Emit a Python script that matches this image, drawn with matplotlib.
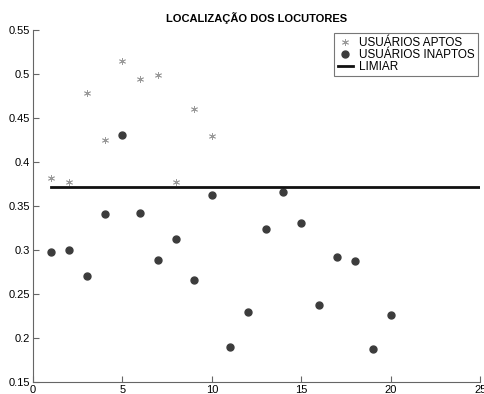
import matplotlib
matplotlib.use("Agg")
import matplotlib.pyplot as plt

plt.rcParams['font.family'] = ['Liberation Sans', 'DejaVu Sans']

# data
x_aptos = [1, 2, 3, 4, 5, 6, 7, 8, 9, 10]
y_aptos = [0.382, 0.377, 0.478, 0.425, 0.515, 0.494, 0.499, 0.377, 0.460, 0.430]

x_inaptos = list(range(1, 21))
y_inaptos = [0.298, 0.300, 0.270, 0.341, 0.431, 0.342, 0.289, 0.313, 0.266, 0.363,
             0.190, 0.229, 0.324, 0.366, 0.331, 0.238, 0.292, 0.288, 0.188, 0.226]

limiar_x = [1, 25]
limiar = 0.3716

xticks = [0, 5, 10, 15, 20, 25]
yticks = [0.15, 0.2, 0.25, 0.3, 0.35, 0.4, 0.45, 0.5, 0.55]

fig = plt.figure(figsize=(4.85, 3.94), dpi=100)
ax = fig.add_axes([0.068, 0.0305, 0.922, 0.8935])

ax.plot(x_aptos, y_aptos, linestyle='none', marker=(6, 2, 0), color='#9a9a9a',
        markersize=5, markeredgewidth=0.6, label='USUÁRIOS APTOS')
ax.plot(x_inaptos, y_inaptos, 'o', color='#3c3c3c', markersize=5, label='USUÁRIOS INAPTOS')
ax.plot(limiar_x, [limiar, limiar], '-', color='#111111', linewidth=2, label='LIMIAR')

ax.set_xlim(0, 25)
ax.set_ylim(0.15, 0.55)
ax.set_xticks(xticks)
ax.set_yticks(yticks)
ax.set_yticklabels([f"{v:g}" for v in yticks])
ax.tick_params(direction='in', length=4, labelsize=8, color='#666666', pad=2)
ax.spines['top'].set_visible(False)
ax.spines['right'].set_visible(False)
for s in ['left', 'bottom']:
    ax.spines[s].set_color('#666666')

ax.set_title('LOCALIZAÇÃO DOS LOCUTORES', fontsize=8, fontweight='bold', pad=6)

leg = ax.legend(loc='upper right', bbox_to_anchor=(0.9955, 0.991), fontsize=8.5,
                frameon=True, fancybox=False, edgecolor='#555555',
                borderpad=0.3, handlelength=1.3, labelspacing=0.0, handletextpad=0.5,
                borderaxespad=0)
leg.get_frame().set_linewidth(0.8)

fig.savefig('out.png', dpi=100)
